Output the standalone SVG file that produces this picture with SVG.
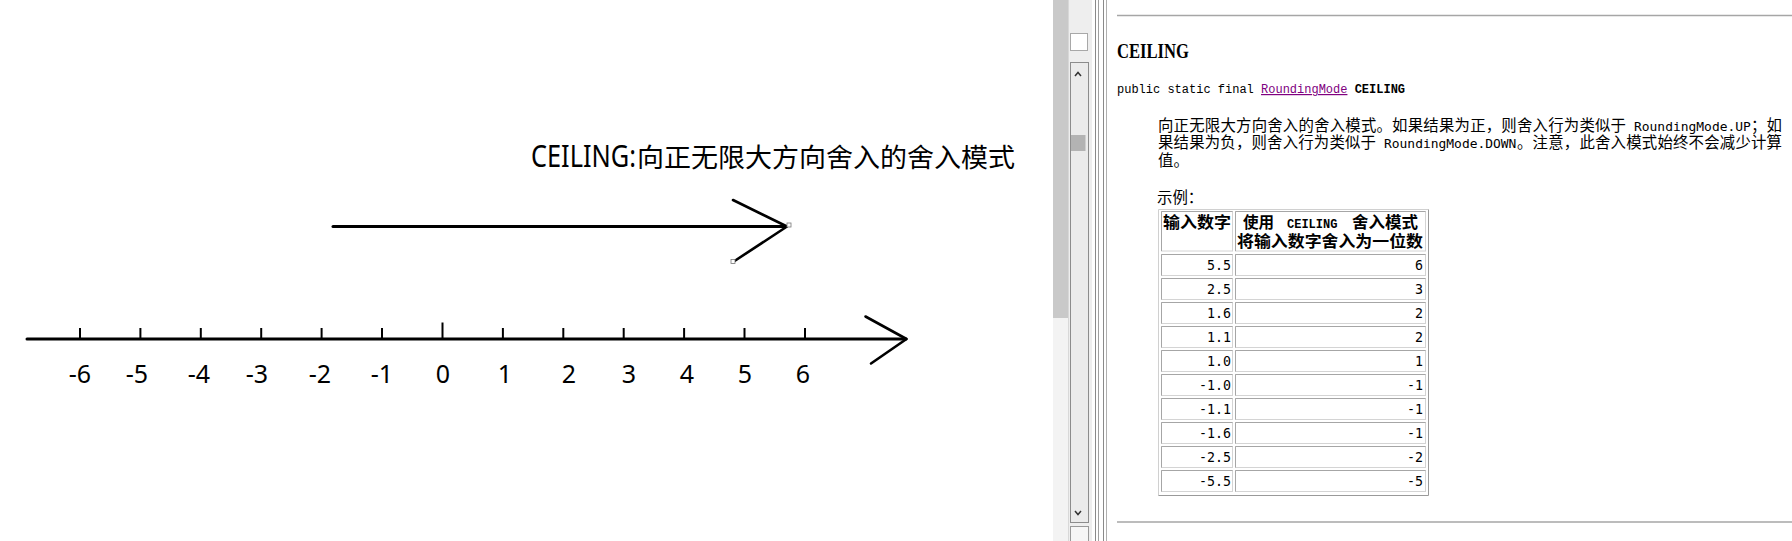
<svg xmlns="http://www.w3.org/2000/svg" width="1792" height="541" viewBox="0 0 1792 541">
<style>
.ln{stroke:#000;fill:none;stroke-linecap:round;stroke-linejoin:round}
.lab{font-family:"Noto Sans","Liberation Sans",sans-serif;font-size:25px;fill:#000;text-anchor:middle}
.cjk{font-family:"Noto Sans CJK SC","Noto Sans",sans-serif;fill:#000}
.p{font-family:"Noto Sans CJK SC","Noto Sans",sans-serif;font-size:15.4px;fill:#000}
.code{font-family:"DejaVu Sans Mono",monospace;font-size:12.95px;fill:#000}
.num{font-family:"DejaVu Sans Mono",monospace;font-size:13.3px;fill:#000;text-anchor:end}
.th{font-family:"Noto Sans CJK SC","Noto Sans",sans-serif;font-size:16px;font-weight:bold;fill:#000}
.cell{fill:#fff;stroke:#d4d4d4;stroke-width:1}
.cellTL{fill:none;stroke:#a6a6a6;stroke-width:1}
.hnd{fill:#fff;stroke:#777;stroke-width:0.8}
</style>
<rect width="1792" height="541" fill="#fff"/>

<g id="title">
<text x="531" y="167" font-family="Noto Sans,Liberation Sans,sans-serif" font-size="30" textLength="105" lengthAdjust="spacingAndGlyphs">CEILING:</text>
<text x="637" y="167" class="cjk" font-size="26.5" textLength="378" lengthAdjust="spacingAndGlyphs">向正无限大方向舍入的舍入模式</text>
</g>

<g id="connectors">
<g id="ceiling-arrow">
<line class="ln" x1="333" y1="226.5" x2="786" y2="226.5" stroke-width="3"/>
<polyline class="ln" points="733,200 787,226.5 733,262" stroke-width="2.6"/>
<rect class="hnd" x="787" y="223" width="4" height="4"/>
<rect class="hnd" x="731" y="259.5" width="4" height="4"/>
</g>
<g id="number-axis">
<line class="ln" x1="27" y1="339" x2="906" y2="339" stroke-width="3"/>
<polyline class="ln" points="865.5,316.5 906.5,339 871,363.5" stroke-width="2.6"/>
<g stroke="#000" stroke-width="2">
<line x1="80" y1="328" x2="80" y2="339"/>
<line x1="140.4" y1="328" x2="140.4" y2="339"/>
<line x1="200.8" y1="328" x2="200.8" y2="339"/>
<line x1="261.2" y1="328" x2="261.2" y2="339"/>
<line x1="321.6" y1="328" x2="321.6" y2="339"/>
<line x1="382" y1="328" x2="382" y2="339"/>
<line x1="442.5" y1="322.5" x2="442.5" y2="339"/>
<line x1="502.9" y1="328" x2="502.9" y2="339"/>
<line x1="563.3" y1="328" x2="563.3" y2="339"/>
<line x1="623.7" y1="328" x2="623.7" y2="339"/>
<line x1="684.1" y1="328" x2="684.1" y2="339"/>
<line x1="744.5" y1="328" x2="744.5" y2="339"/>
<line x1="805" y1="328" x2="805" y2="339"/>
</g>
</g>
</g>

<g id="axis-labels">
<text class="lab" x="80" y="383">-6</text>
<text class="lab" x="137" y="383">-5</text>
<text class="lab" x="199" y="383">-4</text>
<text class="lab" x="257" y="383">-3</text>
<text class="lab" x="320" y="383">-2</text>
<text class="lab" x="382" y="383">-1</text>
<text class="lab" x="443" y="383">0</text>
<text class="lab" x="505" y="383">1</text>
<text class="lab" x="569" y="383">2</text>
<text class="lab" x="629" y="383">3</text>
<text class="lab" x="687" y="383">4</text>
<text class="lab" x="745" y="383">5</text>
<text class="lab" x="803" y="383">6</text>
</g>

<g id="window-chrome">
<rect x="1053" y="0" width="15" height="318" fill="#c9c9c9"/>
<rect x="1053" y="318" width="15" height="223" fill="#f3f3f3"/>
<rect x="1068" y="0" width="24" height="541" fill="#eeeeee"/>
<line x1="1068.5" y1="0" x2="1068.5" y2="541" stroke="#d8d8d8"/>
<rect x="1070.5" y="33.5" width="17" height="17" fill="#fff" stroke="#a8a8a8"/>
<rect x="1070.5" y="62.5" width="18" height="460" fill="#ebebeb" stroke="#8c8c8c"/>
<path d="M1075 76 L1078 72.5 L1081 76" stroke="#333" fill="none" stroke-width="1.5"/>
<rect x="1071" y="135" width="14.5" height="16" fill="#b3b3b3"/>
<path d="M1075 511 L1078 514.5 L1081 511" stroke="#333" fill="none" stroke-width="1.5"/>
<rect x="1070.5" y="526.5" width="18" height="16" fill="#f6f6f6" stroke="#999"/>
<line x1="1095.5" y1="0" x2="1095.5" y2="541" stroke="#8a8a8a"/>
<line x1="1098.5" y1="0" x2="1098.5" y2="541" stroke="#a0a0a0"/>
<line x1="1103.5" y1="0" x2="1103.5" y2="541" stroke="#8a8a8a"/>
<line x1="1106.5" y1="0" x2="1106.5" y2="541" stroke="#b0b0b0"/>
<line x1="1117" y1="15.5" x2="1792" y2="15.5" stroke="#a6a6a6" stroke-width="1.5"/>
<line x1="1117" y1="522" x2="1792" y2="522" stroke="#a6a6a6" stroke-width="1.5"/>
</g>

<g id="doc-text">
<text x="1117" y="58" font-family="Liberation Serif,serif" font-weight="bold" font-size="20" textLength="72" lengthAdjust="spacingAndGlyphs">CEILING</text>
<text x="1117" y="93" font-family="Liberation Mono,monospace" font-size="12">public static final <tspan fill="#800080" text-decoration="underline">RoundingMode</tspan> <tspan font-weight="bold">CEILING</tspan></text>
<text class="p" x="1158" y="130.5" textLength="468" lengthAdjust="spacing">向正无限大方向舍入的舍入模式。如果结果为正，则舍入行为类似于</text>
<text class="code" x="1634" y="130.5">RoundingMode.UP</text>
<text class="p" x="1751" y="130.5" textLength="31" lengthAdjust="spacing">；如</text>
<text class="p" x="1158" y="148" textLength="218" lengthAdjust="spacing">果结果为负，则舍入行为类似于</text>
<text class="code" x="1384" y="148">RoundingMode.DOWN</text>
<text class="p" x="1517" y="148" textLength="265" lengthAdjust="spacing">。注意，此舍入模式始终不会减少计算</text>
<text class="p" x="1158" y="165.5">值。</text>
<text class="p" x="1157" y="203">示例：</text>
</g>

<g id="table">
<path d="M1158.5 495.5 V209.5 H1428.5" fill="none" stroke="#d0d0d0"/>
<path d="M1428.5 209.5 V495.5 H1158.5" fill="none" stroke="#9a9a9a"/>
<rect class="cell" x="1161.5" y="211.5" width="71" height="39.5"/>
<rect class="cell" x="1235.5" y="211.5" width="190" height="39.5"/>
<path class="cellTL" d="M1161.5 251 V211.5 H1232.5 M1235.5 251 V211.5 H1425.5"/>
<text class="th" x="1163" y="228" textLength="68" lengthAdjust="spacingAndGlyphs">输入数字</text>
<text class="th" x="1243" y="228" textLength="31" lengthAdjust="spacingAndGlyphs">使用</text>
<text x="1287" y="227.5" font-family="Liberation Mono,monospace" font-weight="bold" font-size="12">CEILING</text>
<text class="th" x="1352" y="228" textLength="66" lengthAdjust="spacingAndGlyphs">舍入模式</text>
<text class="th" x="1237" y="246.5" textLength="186" lengthAdjust="spacingAndGlyphs">将输入数字舍入为一位数</text>

<g id="rows">
<rect class="cell" x="1161.5" y="254.5" width="71" height="21"/><rect class="cell" x="1235.5" y="254.5" width="190" height="21"/>
<rect class="cell" x="1161.5" y="278.5" width="71" height="21"/><rect class="cell" x="1235.5" y="278.5" width="190" height="21"/>
<rect class="cell" x="1161.5" y="302.5" width="71" height="21"/><rect class="cell" x="1235.5" y="302.5" width="190" height="21"/>
<rect class="cell" x="1161.5" y="326.5" width="71" height="21"/><rect class="cell" x="1235.5" y="326.5" width="190" height="21"/>
<rect class="cell" x="1161.5" y="350.5" width="71" height="21"/><rect class="cell" x="1235.5" y="350.5" width="190" height="21"/>
<rect class="cell" x="1161.5" y="374.5" width="71" height="21"/><rect class="cell" x="1235.5" y="374.5" width="190" height="21"/>
<rect class="cell" x="1161.5" y="398.5" width="71" height="21"/><rect class="cell" x="1235.5" y="398.5" width="190" height="21"/>
<rect class="cell" x="1161.5" y="422.5" width="71" height="21"/><rect class="cell" x="1235.5" y="422.5" width="190" height="21"/>
<rect class="cell" x="1161.5" y="446.5" width="71" height="21"/><rect class="cell" x="1235.5" y="446.5" width="190" height="21"/>
<rect class="cell" x="1161.5" y="470.5" width="71" height="21"/><rect class="cell" x="1235.5" y="470.5" width="190" height="21"/>
<path class="cellTL" d="M1161.5 275.5 V254.5 H1232.5 M1235.5 275.5 V254.5 H1425.5 M1161.5 299.5 V278.5 H1232.5 M1235.5 299.5 V278.5 H1425.5 M1161.5 323.5 V302.5 H1232.5 M1235.5 323.5 V302.5 H1425.5 M1161.5 347.5 V326.5 H1232.5 M1235.5 347.5 V326.5 H1425.5 M1161.5 371.5 V350.5 H1232.5 M1235.5 371.5 V350.5 H1425.5 M1161.5 395.5 V374.5 H1232.5 M1235.5 395.5 V374.5 H1425.5 M1161.5 419.5 V398.5 H1232.5 M1235.5 419.5 V398.5 H1425.5 M1161.5 443.5 V422.5 H1232.5 M1235.5 443.5 V422.5 H1425.5 M1161.5 467.5 V446.5 H1232.5 M1235.5 467.5 V446.5 H1425.5 M1161.5 491.5 V470.5 H1232.5 M1235.5 491.5 V470.5 H1425.5"/>
<text class="num" x="1231" y="270">5.5</text><text class="num" x="1423" y="270">6</text>
<text class="num" x="1231" y="294">2.5</text><text class="num" x="1423" y="294">3</text>
<text class="num" x="1231" y="318">1.6</text><text class="num" x="1423" y="318">2</text>
<text class="num" x="1231" y="342">1.1</text><text class="num" x="1423" y="342">2</text>
<text class="num" x="1231" y="366">1.0</text><text class="num" x="1423" y="366">1</text>
<text class="num" x="1231" y="390">-1.0</text><text class="num" x="1423" y="390">-1</text>
<text class="num" x="1231" y="414">-1.1</text><text class="num" x="1423" y="414">-1</text>
<text class="num" x="1231" y="438">-1.6</text><text class="num" x="1423" y="438">-1</text>
<text class="num" x="1231" y="462">-2.5</text><text class="num" x="1423" y="462">-2</text>
<text class="num" x="1231" y="486">-5.5</text><text class="num" x="1423" y="486">-5</text>
</g>
</g>
</svg>
